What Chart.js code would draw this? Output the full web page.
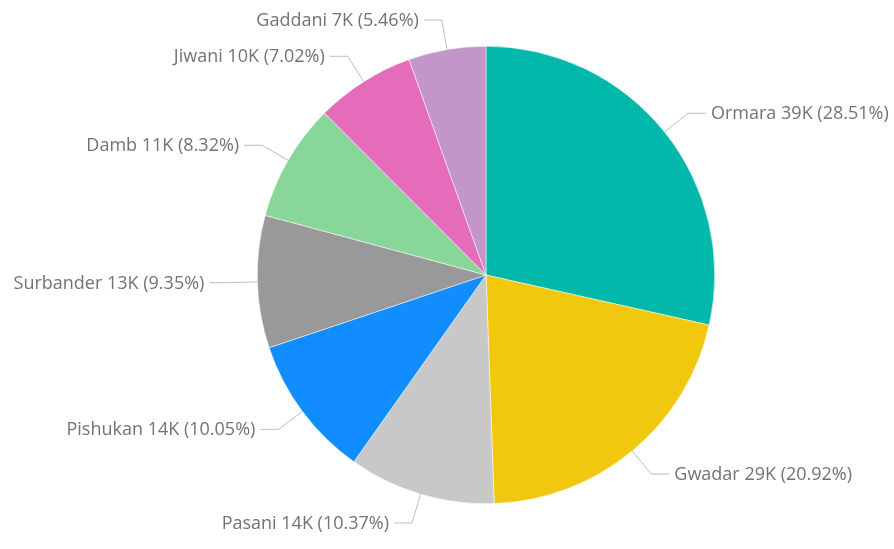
<!DOCTYPE html>
<html>
<head>
<meta charset="utf-8">
<script src="https://cdn.jsdelivr.net/npm/chart.js@4/dist/chart.umd.min.js"></script>
<style>
  html, body { margin: 0; padding: 0; background: #ffffff; }
  #wrap { width: 894px; height: 549px; }
</style>
</head>
<body>
<div id="wrap"><canvas id="c" width="894" height="549"></canvas></div>
<script>
// Catch by landing site
const sites = ['Ormara', 'Gwadar', 'Pasani', 'Pishukan', 'Surbander', 'Damb', 'Jiwani', 'Gaddani'];
const catches = [39003, 28619, 14186, 13748, 12791, 11382, 9603, 7469];
const sliceColors = ['#01B8AA', '#F2C80F', '#C8C8C8', '#118DFF', '#999999', '#88D69A', '#E46CBB', '#C396C9'];

const total = catches.reduce((a, b) => a + b, 0);

function labelText(i) {
  const k = Math.round(catches[i] / 1000) + 'K';
  const pct = (catches[i] / total * 100).toFixed(2) + '%';
  return sites[i] + ' ' + k + ' (' + pct + ')';
}

// Outside labels with elbow leader lines
const outsideLabels = {
  id: 'outsideLabels',
  afterDatasetsDraw(chart) {
    const ctx = chart.ctx;
    const meta = chart.getDatasetMeta(0);
    ctx.save();
    ctx.font = '18px "Open Sans", sans-serif';
    ctx.textBaseline = 'middle';
    meta.data.forEach((arc, i) => {
      const p = arc.getProps(['x', 'y', 'startAngle', 'endAngle', 'outerRadius'], true);
      const mid = (p.startAngle + p.endAngle) / 2;
      const cos = Math.cos(mid), sin = Math.sin(mid);
      const r0 = p.outerRadius;
      const r1 = p.outerRadius + 30;
      const x0 = p.x + cos * r0, y0 = p.y + sin * r0;
      const x1 = p.x + cos * r1, y1 = p.y + sin * r1;
      const right = cos >= 0;
      const x2 = x1 + (right ? 18 : -18);
      ctx.strokeStyle = '#bdbdbd';
      ctx.lineWidth = 1;
      ctx.beginPath();
      ctx.moveTo(x0, y0);
      ctx.lineTo(x1, y1);
      ctx.lineTo(x2, y1);
      ctx.stroke();
      ctx.fillStyle = '#737373';
      ctx.textAlign = right ? 'left' : 'right';
      ctx.fillText(labelText(i), x2 + (right ? 5 : -5), y1 + 1);
    });
    ctx.restore();
  }
};

new Chart(document.getElementById('c'), {
  type: 'pie',
  data: {
    labels: sites,
    datasets: [{
      data: catches,
      backgroundColor: sliceColors,
      borderColor: '#ffffff',
      borderWidth: 0.5
    }]
  },
  options: {
    responsive: false,
    animation: false,
    layout: { padding: { top: 46, bottom: 45, left: 257, right: 179 } },
    plugins: {
      legend: { display: false },
      tooltip: { enabled: false }
    }
  },
  plugins: [outsideLabels]
});
</script>
</body>
</html>
